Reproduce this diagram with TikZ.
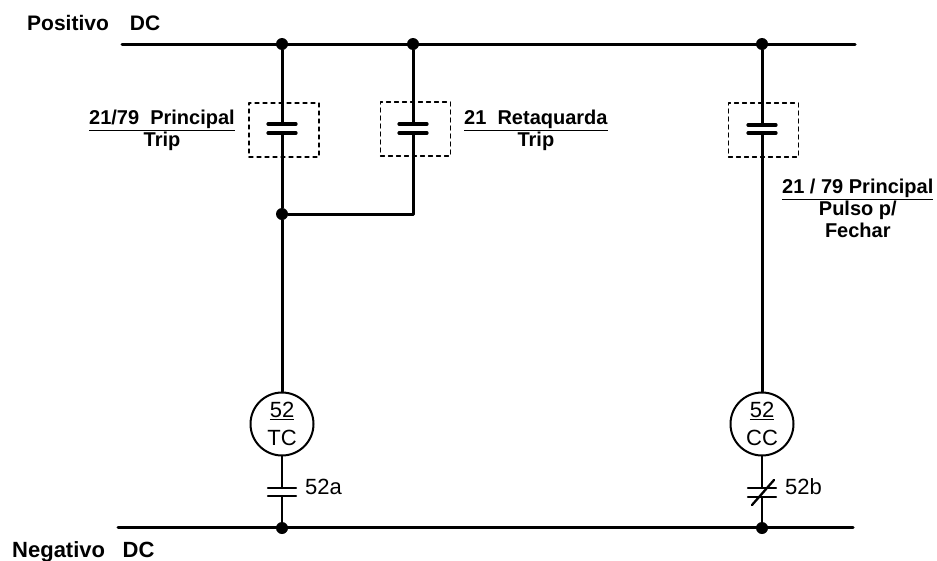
\documentclass[tikz,border=0pt]{standalone}
\usepackage{fontspec}
\setmainfont{Liberation Sans}
\begin{document}
\begin{tikzpicture}[line join=round, line cap=round,
		wire/.style={line width=3pt},
		thinwire/.style={line width=2.3pt},
		plate/.style={line width=3.2pt},
		dot/.style={circle, fill, inner sep=0pt, minimum size=12pt},
		relaybox/.style={draw, line width=1.3pt, dash pattern=on 4pt off 4pt, minimum width=70pt, minimum height=54pt},
		coil/.style={draw, circle, line width=2pt, minimum size=63pt, inner sep=0pt, align=center, font=\fontsize{22}{28}\selectfont},
		lbl/.style={align=center, font=\bfseries\fontsize{20}{22}\selectfont, inner sep=0pt}]
	\begin{scope}[x=1pt, y=-1pt]
		\useasboundingbox (0,0) rectangle (937,560);
		% barras DC
		\coordinate (posL) at (122,44);
		\coordinate (posR) at (855,44);
		\coordinate (negL) at (118,527);
		\coordinate (negR) at (853,527);
		\draw[wire] (posL)--(posR);
		\draw[wire] (negL)--(negR);
		\node[anchor=base west, font=\bfseries\fontsize{21}{24}\selectfont, inner sep=0pt] (pos) at (27,30) {Positivo\hspace{1.0em}DC};
		\node[anchor=base west, font=\bfseries\fontsize{22}{24}\selectfont, inner sep=0pt] (neg) at (12,557) {Negativo\hspace{0.8em}DC};
		% derivacoes
		\node[dot] (d1) at (282,44) {};
		\node[dot] (d2) at (413,44) {};
		\node[dot] (d3) at (762,44) {};
		\coordinate (k1a) at (282,124);
		\coordinate (k1b) at (282,133);
		\coordinate (k2a) at (413,124);
		\coordinate (k2b) at (413,133);
		\coordinate (k3a) at (762,125);
		\coordinate (k3b) at (762,133);
		\node[dot] (j1) at (282,214) {};
		\coordinate (j2) at (413,214);
		% bobinas
		\node[coil] (tc) at (282,424) {\underline{52}\\TC};
		\node[coil] (cc) at (762,424) {\underline{52}\\CC};
		% contatos auxiliares
		\coordinate (k4a) at (282,488);
		\coordinate (k4b) at (282,496);
		\coordinate (k5a) at (762,488);
		\coordinate (k5b) at (762,497);
		\node[dot] (n1) at (282,528) {};
		\node[dot] (n2) at (762,528) {};
		% fios
		\draw[wire] (d1)--(k1a);
		\draw[wire] (k1b)--(j1)--(tc.north);
		\draw[wire] (d2)--(k2a);
		\draw[wire] (k2b)--(j2)--(j1);
		\draw[wire] (d3)--(k3a);
		\draw[wire] (k3b)--(cc.north);
		\draw[thinwire] (tc.south)--(k4a);
		\draw[thinwire] (k4b)--(n1);
		\draw[thinwire] (cc.south)--(k5a);
		\draw[thinwire] (k5b)--(n2);
		% placas dos contatos
		\foreach \k in {k1a,k1b,k2a,k2b,k3a,k3b}
			\draw[plate] ([xshift=-14pt]\k)--([xshift=14pt]\k);
		\foreach \k in {k4a,k4b,k5a,k5b}
			\draw[thinwire] ([xshift=-14pt]\k)--([xshift=14pt]\k);
		\draw[thinwire] (752,505)--(774,480);
		% caixas tracejadas
		\node[relaybox] (b1) at (284,130) {};
		\node[relaybox] (b2) at (415.5,129) {};
		\node[relaybox] (b3) at (763.5,130) {};
		% rotulos
		\node[lbl, anchor=east] (l1) at (235,130) {\underline{21/79\ \ Principal}\\Trip};
		\node[lbl, anchor=west] (l2) at (464,130) {\underline{21\ \ Retaquarda}\\Trip};
		\node[lbl, anchor=west] (l3) at (782,208) {\underline{21 / 79 Principal}\\Pulso p/\\Fechar};
		\node[anchor=west, inner sep=0pt, font=\fontsize{22}{24}\selectfont] (a52) at (305,487) {52a};
		\node[anchor=west, inner sep=0pt, font=\fontsize{22}{24}\selectfont] (b52) at (785,487) {52b};
	\end{scope}
\end{tikzpicture}
\end{document}
